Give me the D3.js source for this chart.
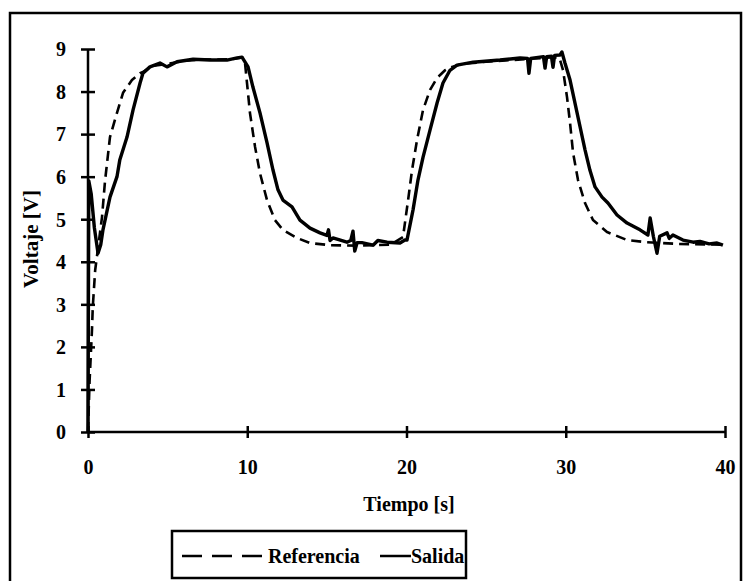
<!DOCTYPE html>
<html>
<head>
<meta charset="utf-8">
<script src="https://cdn.jsdelivr.net/npm/d3@7"></script>
<style>
  html, body { margin: 0; padding: 0; background: #fff; }
  svg { display: block; }
  text { font-family: "Liberation Serif", "DejaVu Serif", serif; font-weight: bold; fill: #000; }
</style>
</head>
<body>
<svg id="chart" width="745" height="581"></svg>
<script>
const xTicks = [0, 10, 20, 30, 40];
const yTicks = [0, 1, 2, 3, 4, 5, 6, 7, 8, 9];
const xTitle = "Tiempo [s]";
const yTitle = "Voltaje [V]";
const seriesNames = ["Referencia", "Salida"];

const refT = [0, 0.1, 0.25, 0.3, 0.45, 0.88, 1.07, 1.38, 1.82, 2.2, 2.76, 3.27, 3.45, 4.0, 5.0, 6.0, 7.0, 8.0, 9.0, 9.7,
  9.86, 10.17, 10.49, 10.8, 11.24, 11.74, 12.24, 13.12, 13.94, 15.2, 17, 19, 19.78, 20.1, 20.35, 20.66, 21.04, 21.48,
  21.92, 22.42, 22.86, 23.5, 25, 27, 29, 29.6, 29.83, 30.08, 30.27, 30.46, 30.77, 31.21, 31.71, 32.59, 33.85, 35.1, 37, 40];
const refV = [0, 1.2, 2.4, 2.94, 3.8, 5.05, 5.9, 6.93, 7.5, 7.97, 8.27, 8.43, 8.46, 8.6, 8.65, 8.72, 8.75, 8.75, 8.76, 8.8,
  8.67, 7.5, 6.7, 6.08, 5.45, 4.98, 4.75, 4.56, 4.44, 4.39, 4.38, 4.4, 4.58, 5.45, 6.16, 6.86, 7.57, 8.04,
  8.32, 8.5, 8.58, 8.65, 8.7, 8.75, 8.8, 8.8, 8.5, 7.87, 7.26, 6.56, 5.92, 5.38, 4.98, 4.7, 4.51, 4.46, 4.42, 4.4];

const outT = [0, 0.05, 0.2, 0.4, 0.63, 0.8, 0.94, 1.38, 1.82, 2.0, 2.45, 2.83, 3.27, 3.45, 3.89, 4.52, 4.96, 5.59, 6.6,
  7.66, 8.73, 9.36, 9.67, 10.05, 10.36, 10.8, 11.24, 11.62, 11.93, 12.24, 12.81, 13.31, 13.94, 14.57, 15.0, 15.1, 15.2,
  15.38, 16.26, 16.5, 16.64, 16.75, 16.9, 17.2, 17.9, 18.2, 18.78, 19.59, 19.9, 20.03, 20.41, 20.72, 21.04, 21.48,
  21.92, 22.29, 22.73, 23.17, 24.18, 25.87, 27.13, 27.6, 27.69, 27.8, 28.38, 28.6, 28.7, 28.8, 29.1, 29.2, 29.3,
  29.64, 29.76, 29.95, 30.27, 30.58, 30.9, 31.21, 31.52, 31.84, 32.28, 32.65, 33.22, 33.85, 34.66, 35.16, 35.3,
  35.5, 35.73, 35.9, 36.36, 36.5, 36.73, 37.36, 38.0, 38.43, 39.0, 39.5, 39.87];
const outV = [0, 5.9, 5.6, 4.8, 4.2, 4.4, 4.75, 5.52, 6.0, 6.4, 6.93, 7.57, 8.2, 8.43, 8.58, 8.67, 8.58, 8.7, 8.76,
  8.74, 8.74, 8.79, 8.81, 8.58, 8.1, 7.5, 6.8, 6.15, 5.69, 5.45, 5.29, 4.98, 4.79, 4.68, 4.62, 4.75, 4.5,
  4.56, 4.46, 4.5, 4.72, 4.25, 4.45, 4.45, 4.39, 4.5, 4.46, 4.44, 4.51, 4.51, 5.22, 5.92, 6.46, 7.1,
  7.73, 8.2, 8.5, 8.62, 8.69, 8.74, 8.79, 8.78, 8.43, 8.78, 8.81, 8.82, 8.55, 8.82, 8.83, 8.57, 8.85,
  8.86, 8.93, 8.67, 8.27, 7.73, 7.17, 6.63, 6.15, 5.76, 5.52, 5.38, 5.1, 4.91, 4.75, 4.63, 5.03,
  4.6, 4.2, 4.6, 4.68, 4.55, 4.63, 4.51, 4.46, 4.48, 4.42, 4.44, 4.39];

const svg = d3.select("#chart");
const mLeft = 88, mRight = 725, mTop = 49, mBottom = 432;

const x = d3.scaleLinear().domain([0, 40]).range([mLeft, mRight]);
const y = d3.scaleLinear().domain([0, 9]).range([mBottom, mTop]);

// outer frame
svg.append("rect").attr("x", 10).attr("y", 13).attr("width", 731).attr("height", 580)
  .attr("fill", "none").attr("stroke", "#000").attr("stroke-width", 2.5);

// axes
const xAxis = svg.append("g").attr("transform", `translate(0,${mBottom})`)
  .call(d3.axisBottom(x).tickValues(xTicks).tickFormat(d3.format("d")).tickSize(5));
xAxis.select(".domain").attr("stroke-width", 2.5).attr("d", `M${mLeft},0H${mRight}`);
xAxis.selectAll(".tick line").attr("y1", -6).attr("y2", 6).attr("stroke-width", 2.5);
xAxis.selectAll(".tick text").attr("y", 42).attr("dy", 0)
  .style("font-size", "20px").style("font-family", "Liberation Serif, serif").style("font-weight", "bold");

const yAxis = svg.append("g").attr("transform", `translate(${mLeft},0)`)
  .call(d3.axisLeft(y).tickValues(yTicks).tickFormat(d3.format("d")).tickSize(5));
yAxis.select(".domain").attr("stroke-width", 2.5).attr("d", `M0,${mBottom}V${mTop}`);
yAxis.selectAll(".tick line").attr("x1", -7).attr("x2", 7).attr("stroke-width", 2.5);
yAxis.selectAll(".tick text").attr("x", -22).attr("dy", "0.34em")
  .style("font-size", "20px").style("font-family", "Liberation Serif, serif").style("font-weight", "bold");

// titles
svg.append("text").attr("x", 409).attr("y", 511).attr("text-anchor", "middle")
  .style("font-size", "20px").text(xTitle);
svg.append("text").attr("transform", "translate(38,239) rotate(-90)").attr("text-anchor", "middle")
  .style("font-size", "21px").text(yTitle);

// lines
const line = d3.line().x(d => x(d[0])).y(d => y(d[1]));
const refData = refT.map((t, i) => [t, refV[i]]);
const outData = outT.map((t, i) => [t, outV[i]]);

svg.append("path").datum(refData).attr("d", line).attr("fill", "none")
  .attr("stroke", "#000").attr("stroke-width", 2.6).attr("stroke-dasharray", "10,6")
  .attr("stroke-linejoin", "round");
svg.append("path").datum(outData).attr("d", line).attr("fill", "none")
  .attr("stroke", "#000").attr("stroke-width", 3.4).attr("stroke-linejoin", "round");

// legend
const lg = svg.append("g");
lg.append("rect").attr("x", 172).attr("y", 531).attr("width", 294).attr("height", 47)
  .attr("fill", "#fff").attr("stroke", "#000").attr("stroke-width", 2.5);
lg.append("line").attr("x1", 182).attr("x2", 262).attr("y1", 556).attr("y2", 556)
  .attr("stroke", "#000").attr("stroke-width", 2.5).attr("stroke-dasharray", "20,10");
lg.append("text").attr("x", 268).attr("y", 563).style("font-size", "20px").text(seriesNames[0]);
lg.append("line").attr("x1", 380).attr("x2", 411).attr("y1", 556).attr("y2", 556)
  .attr("stroke", "#000").attr("stroke-width", 2.5);
lg.append("text").attr("x", 411).attr("y", 563).style("font-size", "20px").text(seriesNames[1]);
</script>
</body>
</html>
